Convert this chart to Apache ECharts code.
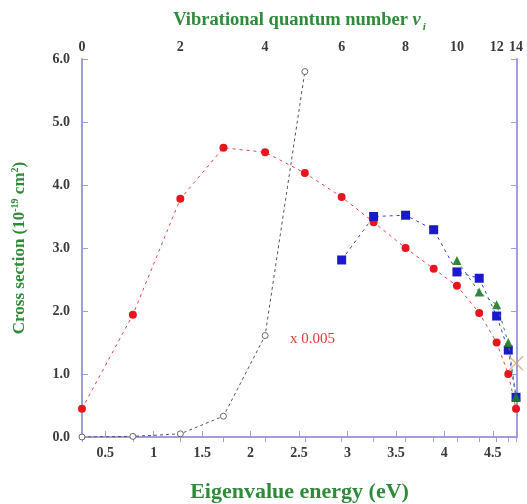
<!DOCTYPE html>
<html>
<head>
<meta charset="utf-8">
<script src="https://cdn.jsdelivr.net/npm/echarts@6/dist/echarts.min.js"></script>
<style>
  html, body { margin: 0; padding: 0; background: #fff; }
  #chart { width: 527px; height: 504px; }
</style>
</head>
<body>
<div id="chart"></div>
<script>
// Vibrational levels v = 0..14 and their eigenvalue energies (eV)
const vibLevels = [0, 1, 2, 3, 4, 5, 6, 7, 8, 9, 10, 11, 12, 13, 14];
const levelEnergy = [0.26, 0.785, 1.275, 1.72, 2.15, 2.56, 2.94, 3.27, 3.60, 3.89, 4.13, 4.36, 4.54, 4.66, 4.74];

// Cross sections (10^-19 cm^2) per vibrational level
const redSection = [0.45, 1.94, 3.78, 4.59, 4.52, 4.19, 3.81, 3.41, 3.00, 2.67, 2.40, 1.97, 1.50, 1.00, 0.45];
const blueLevels = [6, 7, 8, 9, 10, 11, 12, 13, 14];
const blueSection = [2.81, 3.50, 3.52, 3.29, 2.62, 2.52, 1.92, 1.38, 0.63];
const greenLevels = [10, 11, 12, 13, 14];
const greenSection = [2.80, 2.30, 2.10, 1.50, 0.64];
const openLevels = [0, 1, 2, 3, 4, 5];
const openSection = [0.00, 0.01, 0.05, 0.33, 1.61, 5.80];   // scaled by 0.005
const crossLevels = [14];
const crossSection = [1.17];

// Axis ticks
const energyTicks = [0.5, 1, 1.5, 2, 2.5, 3, 3.5, 4, 4.5];
const labeledLevels = [0, 2, 4, 6, 8, 10, 12, 14];

const pairs = (levels, vals) => levels.map((v, i) => [levelEnergy[v], vals[i]]);

const frameColor = '#9d9de0';
const titleColor = '#2f8a3a';
const labelFont = 'Liberation Serif';

const chart = echarts.init(document.getElementById('chart'));

const tickLabelStyle = {
  color: '#3a3a3a',
  fontFamily: labelFont,
  fontWeight: 'bold',
  fontSize: 14
};

chart.setOption({
  animation: false,
  grid: { left: 82, right: 10, top: 59, bottom: 67, containLabel: false, outerBoundsMode: 'none' },
  xAxis: [
    {
      type: 'value',
      min: levelEnergy[0],
      max: 4.75,
      position: 'bottom',
      axisLine: { show: true, lineStyle: { color: frameColor, width: 2 } },
      axisTick: { show: true, inside: true, length: 6, customValues: energyTicks, lineStyle: { color: frameColor, width: 1 } },
      axisLabel: Object.assign({}, tickLabelStyle, {
        customValues: energyTicks,
        margin: 9,
        formatter: v => String(v)
      }),
      splitLine: { show: false },
      name: 'Eigenvalue energy (eV)',
      nameLocation: 'middle',
      nameGap: 44,
      nameTextStyle: { color: titleColor, fontFamily: labelFont, fontWeight: 'bold', fontSize: 22 }
    },
    {
      type: 'value',
      min: levelEnergy[0],
      max: 4.75,
      position: 'top',
      axisLine: { show: true, lineStyle: { color: frameColor, width: 2 } },
      axisTick: { show: true, inside: true, length: 5, customValues: levelEnergy, lineStyle: { color: frameColor, width: 1 } },
      axisLabel: Object.assign({}, tickLabelStyle, {
        customValues: labeledLevels.map(v => levelEnergy[v]),
        margin: 5,
        formatter: e => String(vibLevels[levelEnergy.indexOf(e)])
      }),
      splitLine: { show: false },
      name: '{t|Vibrational quantum number }{it|v}{sub|i}',
      nameLocation: 'middle',
      nameGap: 26,
      nameTextStyle: {
        rich: {
          t: { color: titleColor, fontFamily: labelFont, fontWeight: 'bold', fontSize: 18.5, lineHeight: 22, verticalAlign: 'top' },
          it: { color: titleColor, fontFamily: labelFont, fontWeight: 'bold', fontStyle: 'italic', fontSize: 18.5, lineHeight: 22, verticalAlign: 'top' },
          sub: { color: titleColor, fontFamily: labelFont, fontWeight: 'bold', fontStyle: 'italic', fontSize: 11, lineHeight: 4, verticalAlign: 'bottom', padding: [22, 0, 0, 2] }
        }
      }
    }
  ],
  yAxis: [
    {
      type: 'value',
      min: 0,
      max: 6,
      interval: 1,
      position: 'left',
      axisLine: { show: true, lineStyle: { color: frameColor, width: 2 } },
      axisTick: { show: true, inside: true, length: 6, lineStyle: { color: frameColor, width: 1 } },
      axisLabel: Object.assign({}, tickLabelStyle, { margin: 12, formatter: v => v.toFixed(1) }),
      splitLine: { show: false },
      name: '{t|Cross section (10}{sup|-19}{t| cm}{sup|2}{t|)}',
      nameLocation: 'middle',
      nameGap: 52,
      nameRotate: 90,
      nameTextStyle: {
        rich: {
          t: { color: titleColor, fontFamily: labelFont, fontWeight: 'bold', fontSize: 17, lineHeight: 20 },
          sup: { color: titleColor, fontFamily: labelFont, fontWeight: 'bold', fontSize: 10, lineHeight: 10, verticalAlign: 'top' }
        }
      }
    },
    {
      type: 'value',
      min: 0,
      max: 6,
      interval: 1,
      position: 'right',
      axisLine: { show: true, lineStyle: { color: frameColor, width: 2 } },
      axisTick: { show: true, inside: true, length: 6, lineStyle: { color: frameColor, width: 1 } },
      axisLabel: { show: false },
      splitLine: { show: false }
    }
  ],
  graphic: [
    {
      type: 'text',
      left: 290,
      top: 332,
      style: { text: 'x 0.005', fill: '#e8343a', font: '15px "Liberation Serif"' }
    }
  ],
  series: [
    {
      name: 'scaled',
      type: 'line',
      data: pairs(openLevels, openSection),
      symbol: 'circle',
      symbolSize: 6,
      itemStyle: { color: '#fff', borderColor: '#666', borderWidth: 1 },
      lineStyle: { color: '#555', width: 1, type: [3, 3] },
      z: 2
    },
    {
      name: 'red',
      type: 'line',
      data: pairs(vibLevels, redSection),
      symbol: 'circle',
      symbolSize: 8,
      itemStyle: { color: '#e8161c', borderWidth: 0 },
      lineStyle: { color: '#e8404a', width: 1, type: [3, 4] },
      z: 3
    },
    {
      name: 'blue',
      type: 'line',
      data: pairs(blueLevels, blueSection),
      symbol: 'rect',
      symbolSize: 9,
      itemStyle: { color: '#1a1acc', borderWidth: 0 },
      lineStyle: { color: '#3a3ad0', width: 1, type: [3, 4] },
      z: 4
    },
    {
      name: 'green',
      type: 'line',
      data: pairs(greenLevels, greenSection),
      symbol: 'triangle',
      symbolSize: 9,
      itemStyle: { color: '#1f7a2a', borderWidth: 0, opacity: 0.9 },
      lineStyle: { color: '#3a8a4a', width: 1, type: [3, 4] },
      z: 5
    },
    {
      name: 'cross',
      type: 'scatter',
      data: pairs(crossLevels, crossSection),
      symbol: 'path://M0,0L10,10M10,0L0,10',
      symbolSize: 14,
      itemStyle: { color: 'none', borderColor: '#d9a07a', borderWidth: 1.3 },
      z: 6
    }
  ]
});
</script>
</body>
</html>
